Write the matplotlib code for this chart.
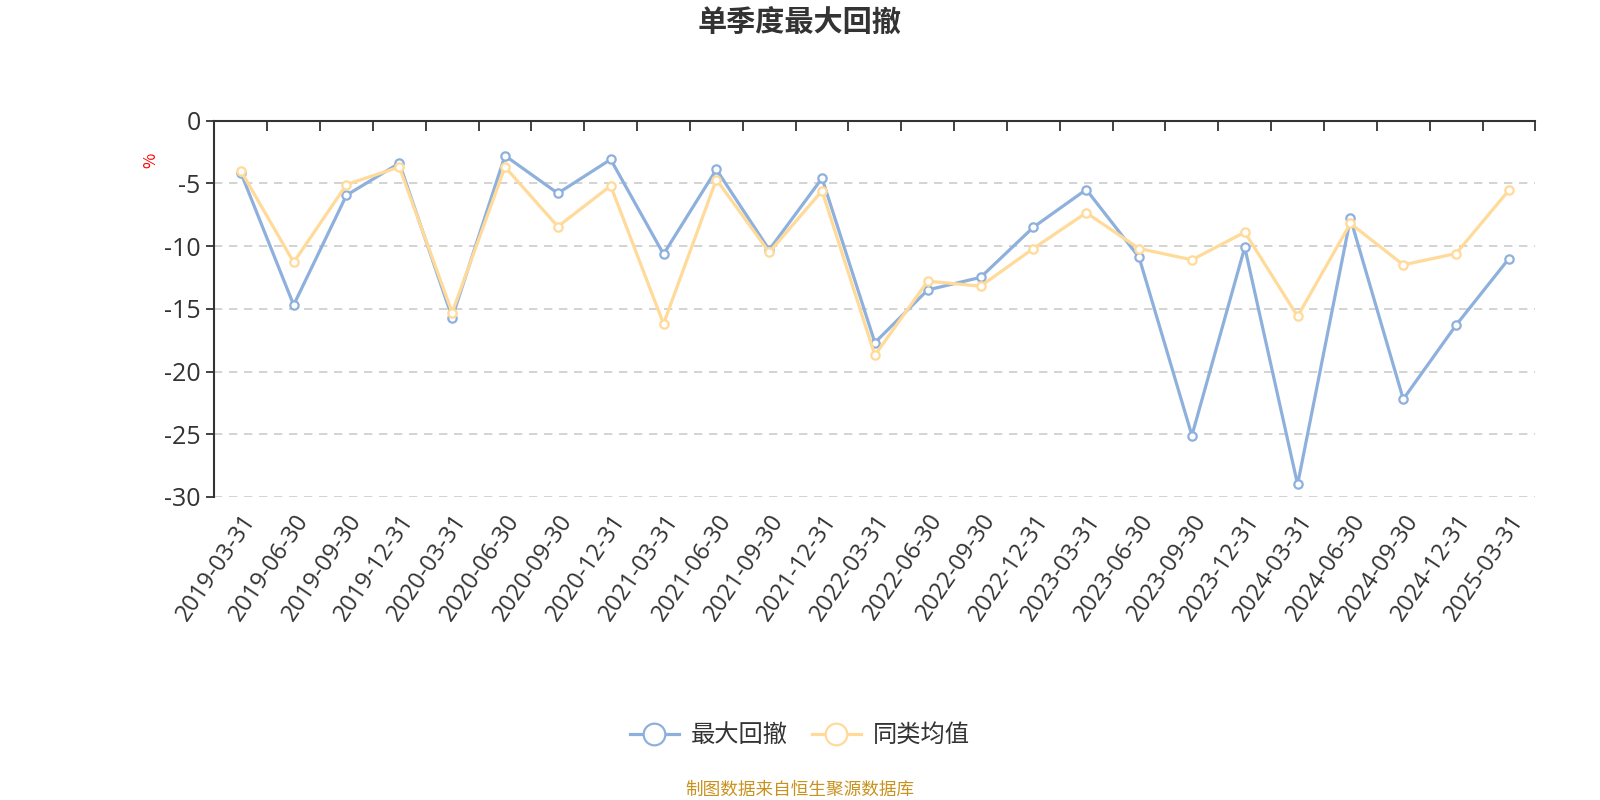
import numpy as np
import matplotlib
matplotlib.use("Agg")
from matplotlib import pyplot as plt
from matplotlib.ticker import FixedLocator

plt.rcParams['font.family'] = ['Noto Sans CJK SC', 'DejaVu Sans']
plt.rcParams['axes.unicode_minus'] = False

dates = ["2019-03-31", "2019-06-30", "2019-09-30", "2019-12-31",
         "2020-03-31", "2020-06-30", "2020-09-30", "2020-12-31",
         "2021-03-31", "2021-06-30", "2021-09-30", "2021-12-31",
         "2022-03-31", "2022-06-30", "2022-09-30", "2022-12-31",
         "2023-03-31", "2023-06-30", "2023-09-30", "2023-12-31",
         "2024-03-31", "2024-06-30", "2024-09-30", "2024-12-31",
         "2025-03-31"]
max_drawdown = [-4.15, -14.7, -5.95, -3.4, -15.7, -2.8, -5.8, -3.1,
                -10.65, -3.9, -10.3, -4.6, -17.7, -13.5, -12.5, -8.5,
                -5.5, -10.9, -25.1, -10.1, -29.0, -7.8, -22.2, -16.3,
                -11.0]
peer_avg = [-4.0, -11.3, -5.1, -3.7, -15.3, -3.7, -8.45, -5.2,
            -16.2, -4.7, -10.5, -5.6, -18.7, -12.8, -13.2, -10.2,
            -7.35, -10.2, -11.1, -8.9, -15.6, -8.2, -11.5, -10.6,
            -5.55]
yticks = [0, -5, -10, -15, -20, -25, -30]

BLUE = "#8eb0dc"
ORANGE = "#ffda99"
TICK_FONT = ['Open Sans', 'Noto Sans CJK SC']

fig = plt.figure(figsize=(16, 8), dpi=100)
ax = fig.add_axes([0.134, 0.37875, 0.8256, 0.4706])

x = np.arange(len(dates))
ax.plot(x, max_drawdown, color=BLUE, lw=2.3, marker='o', ms=6,
        mfc='white', mec=BLUE, mew=1.6, label="最大回撤", zorder=3)
ax.plot(x, peer_avg, color=ORANGE, lw=2.3, marker='o', ms=6,
        mfc='white', mec=ORANGE, mew=1.6, label="同类均值", zorder=3)

ax.set_xlim(-0.5, len(dates) - 0.5)
ax.set_ylim(-30, 0)
ax.set_yticks(yticks)
ax.set_yticklabels([str(v) for v in yticks], family=TICK_FONT)
for yv in yticks[1:]:
    ax.axhline(yv, color="#cccccc", lw=1.2, ls=(0, (5, 4)), zorder=1)

ax.set_xticks(x)
ax.set_xticklabels(dates, rotation=56, ha='right', rotation_mode='anchor',
                   family=TICK_FONT)
ax.xaxis.set_minor_locator(FixedLocator(np.arange(0.5, len(dates), 1.0)))
ax.tick_params(axis='x', which='major', length=0, pad=9,
               labelsize=17, labelcolor="#333333")
ax.tick_params(axis='x', which='minor', top=True, bottom=False,
               direction='in', length=7, width=1.3, color="#333333")
ax.tick_params(axis='y', length=6, width=1.3, color="#333333",
               labelsize=18, labelcolor="#333333", pad=4)

for s in ['right', 'bottom']:
    ax.spines[s].set_visible(False)
for s in ['top', 'left']:
    ax.spines[s].set_color("#333333")
    ax.spines[s].set_linewidth(1.5)

fig.text(0.094, 0.799, "%", color="red", rotation=90, fontsize=12,
         ha='center', va='center')
fig.text(0.5, 0.972, "单季度最大回撤", fontsize=21, fontweight='bold',
         color="#333333", ha='center', va='center')

leg = fig.legend(loc='center', bbox_to_anchor=(0.5, 0.081), ncol=2,
                 frameon=False, fontsize=17.5, markerscale=2.6,
                 handlelength=2.0, columnspacing=1.0, handletextpad=0.5)
for t in leg.get_texts():
    t.set_color("#333333")

fig.text(0.5, 0.013, "制图数据来自恒生聚源数据库", fontsize=12.7,
         color="#c8921e", ha='center', va='center')

fig.savefig("out.png", dpi=100)
